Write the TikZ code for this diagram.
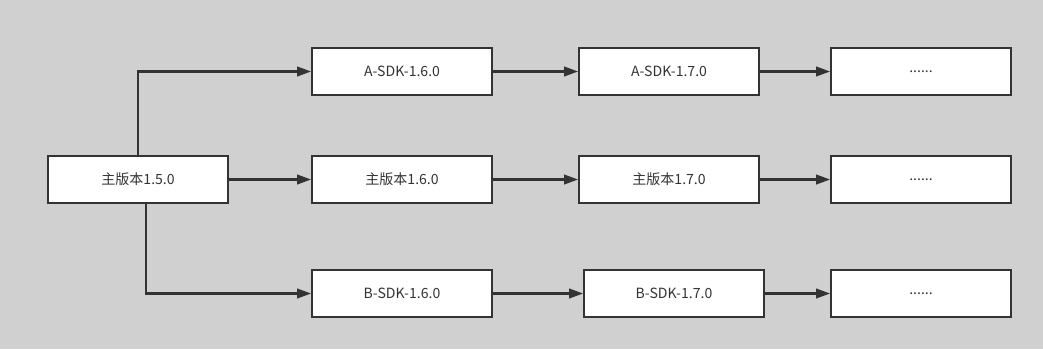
\documentclass[tikz,border=0pt]{standalone}
\usepackage{fontspec}
\setmainfont{Noto Sans CJK SC}
\usetikzlibrary{arrows.meta}
\definecolor{bggray}{RGB}{208,208,208}
\definecolor{linegray}{RGB}{51,51,51}
\begin{document}
\begin{tikzpicture}[x=0.02cm, y=-0.02cm,
    version/.style={draw=linegray, fill=white, line width=1.1pt, minimum width=3.6cm,
      minimum height=0.94cm, inner sep=0pt, font=\fontsize{8}{9.6}\selectfont, text=linegray},
    link/.style={draw=linegray, line width=1.2pt, -{Triangle[length=8pt, width=5.5pt]}}]
  % background, same size as the reference
  \fill[bggray] (0,0) rectangle (1043,349);
  \useasboundingbox (0,0) rectangle (1043,349);

  % the main line
  \node[version] (main15) at (138,179.5) {主版本1.5.0};
  \node[version] (main16) at (402,179.5) {主版本1.6.0};
  \node[version] (main17) at (669,179.5) {主版本1.7.0};
  \node[version] (maindots) at (921,179.5) {......};
  % the A branch
  \node[version] (a16) at (402,71.5) {A-SDK-1.6.0};
  \node[version] (a17) at (669,71.5) {A-SDK-1.7.0};
  \node[version] (adots) at (921,71.5) {......};
  % the B branch
  \node[version] (b16) at (402,293.5) {B-SDK-1.6.0};
  \node[version] (b17) at (674,293.5) {B-SDK-1.7.0};
  \node[version] (bdots) at (921,293.5) {......};

  \draw[link] (main15.north) |- (a16.west);
  \draw[link] (main15) -- (main16);
  \draw[link] ([xshift=0.16cm]main15.south) |- (b16.west);
  \draw[link] (a16) -- (a17);
  \draw[link] (a17) -- (adots);
  \draw[link] (main16) -- (main17);
  \draw[link] (main17) -- (maindots);
  \draw[link] (b16) -- (b17);
  \draw[link] (b17) -- (bdots);
\end{tikzpicture}
\end{document}
